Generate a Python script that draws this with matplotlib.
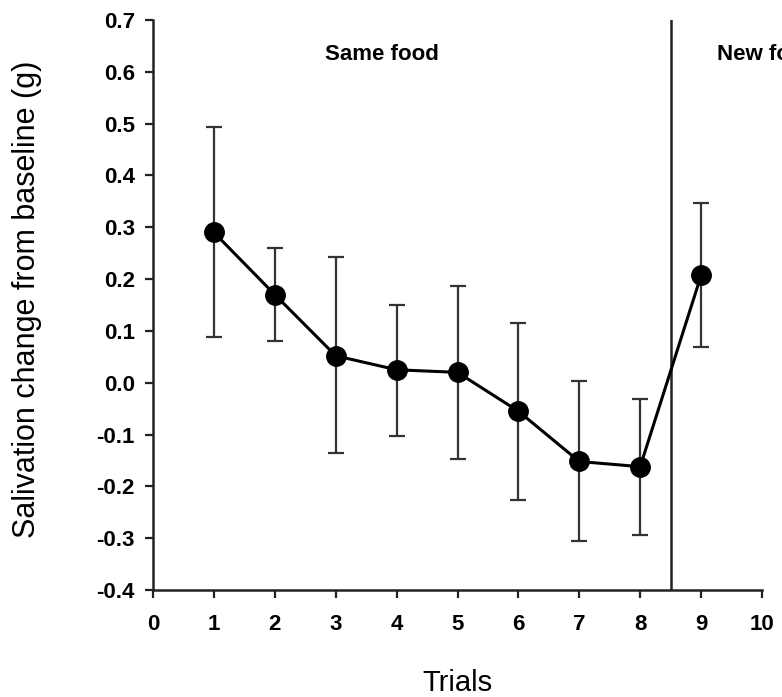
import matplotlib.pyplot as plt
import numpy as np

# Dados
trials = [1, 2, 3, 4, 5, 6, 7, 8, 9]
salivation = [0.29, 0.17, 0.052, 0.025, 0.02, -0.055, -0.152, -0.162, 0.207]
upper = [0.494, 0.26, 0.243, 0.15, 0.186, 0.115, 0.003, -0.031, 0.347]
lower = [0.089, 0.08, -0.136, -0.102, -0.148, -0.226, -0.306, -0.294, 0.068]
yticks = [-0.4, -0.3, -0.2, -0.1, 0.0, 0.1, 0.2, 0.3, 0.4, 0.5, 0.6, 0.7]
xticks = [0, 1, 2, 3, 4, 5, 6, 7, 8, 9, 10]
split_at = 8.5

plt.rcParams['font.family'] = ['Liberation Sans', 'DejaVu Sans']

fig = plt.figure(figsize=(7.82, 6.97), dpi=100)
ax = fig.add_axes([0.1957, 0.1535, 0.7787, 0.8178])

y = np.array(salivation)
yerr = [y - np.array(lower), np.array(upper) - y]

ax.errorbar(trials, salivation, yerr=yerr, fmt='-o', color='black',
            ecolor='#333333', elinewidth=1.6, capsize=6, capthick=1.6,
            lw=2.2, markersize=14, zorder=3)

ax.axvline(split_at, color='#222222', lw=1.8, zorder=2)

ax.text(3.76, 0.633, "Same food", fontsize=16, fontweight='bold',
        ha='center', va='center')
ax.text(9.26, 0.633, "New food", fontsize=16, fontweight='bold',
        ha='left', va='center', clip_on=False)

ax.set_xlim(0, 10)
ax.set_ylim(-0.4, 0.7)
ax.set_xticks(xticks)
ax.set_yticks(yticks)
ax.set_yticklabels([f"{v:.1f}" for v in yticks])

ax.spines['top'].set_visible(False)
ax.spines['right'].set_visible(False)
for s in ['left', 'bottom']:
    ax.spines[s].set_linewidth(1.8)
    ax.spines[s].set_color('#222222')

ax.tick_params(axis='both', direction='out', length=6, width=1.6,
               labelsize=16, color='#222222')
for lab in ax.get_xticklabels() + ax.get_yticklabels():
    lab.set_fontweight('bold')
ax.tick_params(axis='x', pad=11)
ax.tick_params(axis='y', pad=7)

ax.set_xlabel("Trials", fontsize=21)
ax.set_ylabel("Salivation change from baseline (g)", fontsize=22)
ax.xaxis.set_label_coords(0.5, -0.138)
ax.yaxis.set_label_coords(-0.182, 0.51)

fig.savefig("out.png", dpi=100)
